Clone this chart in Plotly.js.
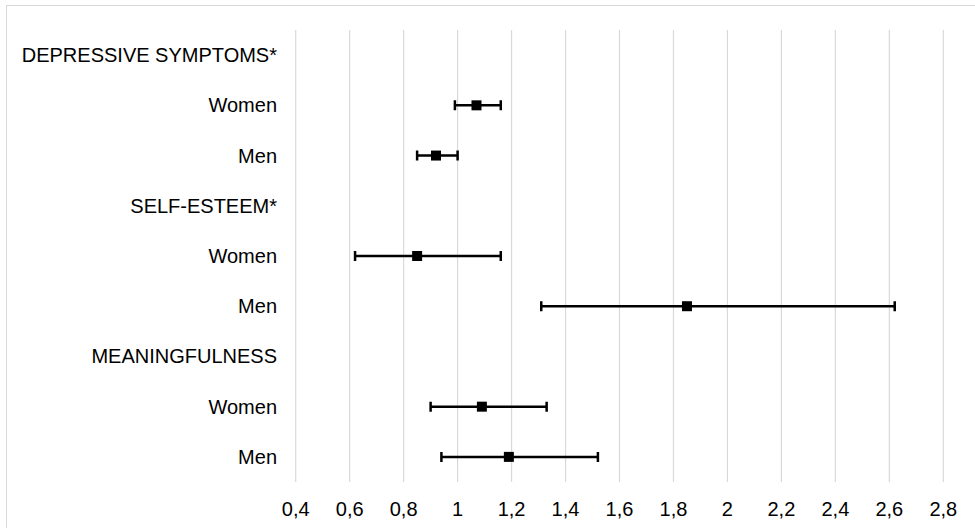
<!DOCTYPE html>
<html>
<head>
<meta charset="utf-8">
<script src="https://cdn.plot.ly/plotly-3.0.1.min.js"></script>
<style>
  html, body { margin: 0; padding: 0; background: #ffffff; }
  #frame { position: absolute; left: 6px; top: 5px; width: 1100px; height: 700px;
           border: 1.5px solid #d9d9d9; box-sizing: border-box; }
  #chart { position: absolute; left: 0; top: 0; width: 975px; height: 528px; }
</style>
</head>
<body>
<div id="frame"></div>
<div id="chart"></div>
<script>
// Row labels, top to bottom
const rowLabels = ['DEPRESSIVE SYMPTOMS*', 'Women', 'Men',
                   'SELF-ESTEEM*', 'Women', 'Men',
                   'MEANINGFULNESS', 'Women', 'Men'];
// Point estimates and confidence limits (null for heading rows)
const estimate = [null, 1.07, 0.92, null, 0.85, 1.85, null, 1.09, 1.19];
const lower    = [null, 0.99, 0.85, null, 0.62, 1.31, null, 0.90, 0.94];
const upper    = [null, 1.16, 1.00, null, 1.16, 2.62, null, 1.33, 1.52];
// X-axis ticks
const xTickVals = [0.4, 0.6, 0.8, 1.0, 1.2, 1.4, 1.6, 1.8, 2.0, 2.2, 2.4, 2.6, 2.8];
const xTickText = ['0,4', '0,6', '0,8', '1', '1,2', '1,4', '1,6', '1,8', '2', '2,2', '2,4', '2,6', '2,8'];

const rowIndex = rowLabels.map((_, i) => i);
const errPlus  = estimate.map((v, i) => v === null ? null : +(upper[i] - v).toFixed(4));
const errMinus = estimate.map((v, i) => v === null ? null : +(v - lower[i]).toFixed(4));

const trace = {
  type: 'scatter',
  mode: 'markers',
  x: estimate,
  y: rowIndex,
  marker: { symbol: 'square', size: 10, color: '#000000' },
  error_x: {
    type: 'data', symmetric: false,
    array: errPlus, arrayminus: errMinus,
    color: '#000000', thickness: 2.5, width: 5
  },
  hoverinfo: 'skip'
};

// vertical gridlines at every tick value
const gridShapes = xTickVals.map(v => ({
  type: 'line', xref: 'x', yref: 'paper',
  x0: v, x1: v, y0: 0, y1: 1,
  line: { color: '#d9d9d9', width: 1.2 },
  layer: 'below'
}));

const font = { family: 'Liberation Sans, Arial, sans-serif', size: 20, color: '#000000' };

const layout = {
  width: 975, height: 528,
  margin: { l: 293, r: 29, t: 30, b: 46, pad: 0 },
  paper_bgcolor: 'rgba(0,0,0,0)',
  plot_bgcolor: 'rgba(0,0,0,0)',
  showlegend: false,
  font: font,
  shapes: gridShapes,
  xaxis: {
    range: [0.39, 2.81],
    tickvals: xTickVals, ticktext: xTickText,
    showgrid: false,
    zeroline: false, showline: false, ticks: '',
    tickfont: font, ticklabelstandoff: 13
  },
  yaxis: {
    range: [8.5, -0.5],
    tickvals: rowIndex, ticktext: rowLabels,
    showgrid: false, zeroline: false, showline: false, ticks: '',
    tickfont: font, ticklabelstandoff: 15
  }
};

Plotly.newPlot('chart', [trace], layout, { staticPlot: true, displayModeBar: false });
</script>
</body>
</html>
